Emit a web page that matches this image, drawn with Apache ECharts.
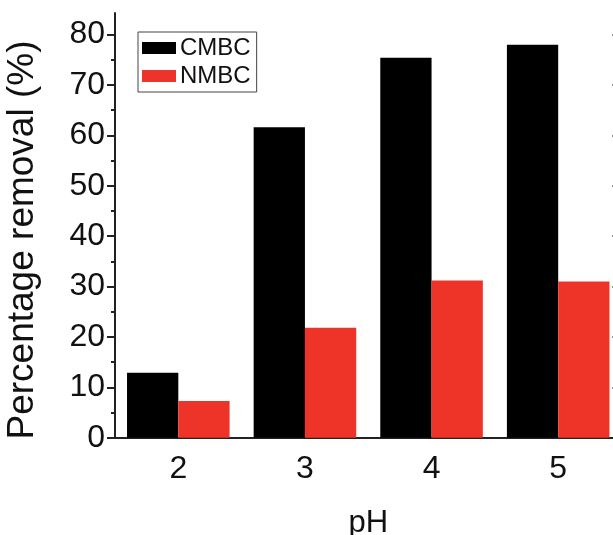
<!DOCTYPE html>
<html>
<head>
<meta charset="utf-8">
<script src="https://cdn.jsdelivr.net/npm/echarts@6/dist/echarts.min.js"></script>
<style>html,body{margin:0;padding:0;background:#fff;}#c{width:613px;height:535px;}</style>
</head>
<body>
<div id="c"></div>
<script>
const categories = ['2', '3', '4', '5'];
const cmbc = [12.9, 61.6, 75.4, 78.0];
const nmbc = [7.3, 21.8, 31.2, 31.0];
const yMajorTicks = [0, 10, 20, 30, 40, 50, 60, 70, 80];
const yMinorTicks = [5, 15, 25, 35, 45, 55, 65, 75];
const xName = 'pH';
const yName = 'Percentage removal (%)';

const chart = echarts.init(document.getElementById('c'), null, {renderer: 'canvas'});
const FONT = 'Liberation Sans';
const AX = '#222';
const yMax = 84.3;
const grids = {left: 115, width: 506.5, top: 13, height: 424.7, outerBoundsMode: 'none', containLabel: false};

chart.setOption({
  animation: false,
  backgroundColor: '#ffffff',
  grid: grids,
  legend: {
    orient: 'vertical',
    left: 138, top: 32,
    padding: [4, 6, 4, 4],
    itemGap: 4,
    itemWidth: 34, itemHeight: 12,
    icon: 'rect',
    borderColor: '#444', borderWidth: 1,
    textStyle: {fontFamily: FONT, fontSize: 24, color: '#111', padding: [0, 0, 0, -1]},
    data: ['CMBC', 'NMBC']
  },
  xAxis: [
    {
      type: 'category', data: categories, position: 'bottom',
      name: xName, nameLocation: 'middle', nameGap: 70,
      nameTextStyle: {fontFamily: FONT, fontSize: 31, color: '#111'},
      axisLine: {lineStyle: {color: AX, width: 2}},
      axisTick: {alignWithLabel: true, length: 6, lineStyle: {color: AX, width: 2}},
      axisLabel: {fontFamily: FONT, fontSize: 32, color: '#111', margin: 15},
      splitLine: {show: false}
    },
    {
      type: 'category', data: categories, position: 'bottom',
      axisLine: {show: false},
      axisTick: {alignWithLabel: false, length: 4, lineStyle: {color: AX, width: 2}},
      axisLabel: {show: false}, splitLine: {show: false}
    },
    {
      type: 'category', data: categories, position: 'top',
      axisLine: {lineStyle: {color: AX, width: 2}},
      axisTick: {alignWithLabel: true, inside: true, length: 8, lineStyle: {color: AX, width: 2}},
      axisLabel: {show: false}, splitLine: {show: false}
    }
  ],
  yAxis: [
    {
      type: 'value', min: 0, max: yMax, position: 'left',
      axisLine: {show: true, lineStyle: {color: AX, width: 2}},
      axisTick: {show: true, length: 8, customValues: yMajorTicks, lineStyle: {color: AX, width: 2}},
      axisLabel: {fontFamily: FONT, fontSize: 32, color: '#111', margin: 10, customValues: yMajorTicks},
      splitLine: {show: false}
    },
    {
      type: 'value', min: 0, max: yMax, position: 'left',
      axisLine: {show: false},
      axisTick: {show: true, length: 4, customValues: yMinorTicks, lineStyle: {color: AX, width: 2}},
      axisLabel: {show: false}, splitLine: {show: false}
    },
    {
      type: 'value', min: 0, max: yMax, position: 'right',
      axisLine: {show: true, lineStyle: {color: AX, width: 2}},
      axisTick: {show: true, inside: true, length: 9, customValues: yMajorTicks, lineStyle: {color: AX, width: 2}},
      axisLabel: {show: false}, splitLine: {show: false}
    }
  ],
  graphic: [{
    type: 'text',
    x: 23, y: 240, rotation: Math.PI / 2,
    style: {text: yName, fontFamily: FONT, fontSize: 37, fill: '#111', align: 'center', verticalAlign: 'middle'}
  }],
  series: [
    {name: 'CMBC', type: 'bar', data: cmbc, barGap: '0%', barCategoryGap: '19%',
     itemStyle: {color: '#000000'}},
    {name: 'NMBC', type: 'bar', data: nmbc, barGap: '0%', barCategoryGap: '19%',
     itemStyle: {color: '#ee3428'}}
  ]
});
</script>
</body>
</html>
